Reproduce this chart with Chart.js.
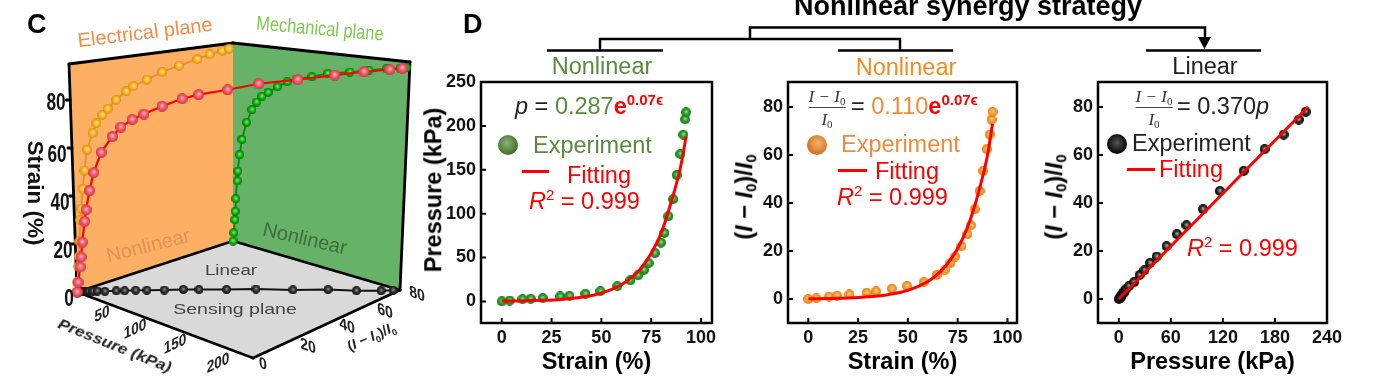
<!DOCTYPE html>
<html>
<head>
<meta charset="utf-8">
<title>Nonlinear synergy strategy</title>
<script src="https://cdn.jsdelivr.net/npm/chart.js@4/dist/chart.umd.min.js"></script>
<style>
  html, body { margin: 0; padding: 0; background: #fff; }
  #page { position: relative; width: 1393px; height: 382px; overflow: hidden; font-family: "Liberation Sans", Arial, sans-serif; filter: blur(.4px); }
  canvas { position: absolute; }
  svg { position: absolute; left: 0; top: 0; }
  .t { position: absolute; white-space: nowrap; line-height: 1; transform: translateY(-50%); }
  .c { transform: translate(-50%, -50%); }
  .leg { font-size: 23.5px; }
  .b { font-weight: bold; }
  .ytitle { font-weight: bold; font-size: 23.5px; transform: translate(-50%, -50%) rotate(-90deg); }
  .ytitle sub { font-size: 15px; vertical-align: -4px; line-height: 0; }
  .eq { font-size: 23.5px; }
  .eq sup { font-size: 15px; font-weight: bold; vertical-align: 9px; line-height: 0; }
  .r2 sup { font-size: 15px; vertical-align: 9px; line-height: 0; }
  .frac { position: absolute; transform: translate(-50%, 0); text-align: center; font-family: "Liberation Serif", serif; font-size: 17px; font-style: italic; color: #333; line-height: 1; white-space: nowrap; }
  .frac sub { font-size: 11px; font-style: normal; vertical-align: -3px; line-height: 0; }
  .frac .num { border-bottom: 1.5px solid #444; padding-bottom: 2px; margin-bottom: 3px; }
  .ball { position: absolute; width: 20px; height: 20px; border-radius: 50%; transform: translate(-50%, -50%); }
  .bar { position: absolute; height: 3px; background: #f00; }
  .tick3d { font-weight: bold; font-size: 15px; color: #222; }
  .strainTick { font-weight: bold; font-size: 23px; color: #111; }
</style>
</head>
<body>
<div id="page">
  <canvas id="cube" width="450" height="382" style="left:0;top:0"></canvas>
  <canvas id="chartA" width="316" height="322" style="left:420px;top:60px"></canvas>
  <canvas id="chartB" width="306" height="322" style="left:735px;top:60px"></canvas>
  <canvas id="chartC" width="323" height="322" style="left:1040px;top:60px"></canvas>

  <!-- strategy bracket -->
  <svg width="1393" height="60">
    <g fill="none" stroke="#000" stroke-width="2.5">
      <path d="M547 50.5H663M838 50.5H953M1146 50.5H1261"/>
      <path d="M600 50V39H900V50"/>
      <path d="M750 39V27.5H1205V40"/>
    </g>
    <path d="M1198 37H1211L1204.5 49Z" fill="#000"/>
  </svg>

  <div class="t b" style="left:794px;top:6px;font-size:27px;color:#000">Nonlinear synergy strategy</div>
  <div class="t b" style="left:27px;top:24px;font-size:27px;color:#000">C</div>
  <div class="t b" style="left:463px;top:24px;font-size:27px;color:#000">D</div>

  <div class="t c" style="left:602px;top:67px;font-size:23.5px;color:#5a8a3c">Nonlinear</div>
  <div class="t c" style="left:906px;top:68px;font-size:23.5px;color:#f58a1f">Nonlinear</div>
  <div class="t c" style="left:1205px;top:67px;font-size:23.5px;color:#222">Linear</div>

  <!-- panel C labels -->
  <div class="t c" style="left:145px;top:32px;font-size:20px;color:#f58b45;transform:translate(-50%,-50%) rotate(-7deg)">Electrical plane</div>
  <div class="t c" style="left:320px;top:28px;font-size:20px;color:#7ec850;transform:translate(-50%,-50%) rotate(5deg) scaleX(.82)">Mechanical plane</div>
  <div class="t c" style="left:148px;top:245px;font-size:20px;color:#d8945a;transform:translate(-50%,-50%) rotate(-14deg)">Nonlinear</div>
  <div class="t c" style="left:305px;top:238px;font-size:20px;color:#3e6e3e;transform:translate(-50%,-50%) rotate(13deg)">Nonlinear</div>
  <div class="t c" style="left:231px;top:269px;font-size:15px;color:#444;transform:translate(-50%,-50%) scaleX(1.25)">Linear</div>
  <div class="t c" style="left:235px;top:308px;font-size:15px;color:#444;transform:translate(-50%,-50%) scaleX(1.3)">Sensing plane</div>

  <div class="t c b" style="left:35px;top:193px;font-size:22.5px;color:#111;transform:translate(-50%,-50%) rotate(90deg)">Strain (%)</div>
  <div class="t c strainTick" style="left:56px;top:102px;transform:translate(-50%,-50%) scaleX(.75)">80</div>
  <div class="t c strainTick" style="left:57px;top:154px;transform:translate(-50%,-50%) scaleX(.75)">60</div>
  <div class="t c strainTick" style="left:60px;top:202px;transform:translate(-50%,-50%) scaleX(.75)">40</div>
  <div class="t c strainTick" style="left:63px;top:250px;transform:translate(-50%,-50%) scaleX(.75)">20</div>
  <div class="t c strainTick" style="left:69px;top:298px;transform:translate(-50%,-50%) scaleX(.75)">0</div>

  <div class="t c tick3d" style="left:102px;top:313px;transform:translate(-50%,-50%) rotate(-25deg) skewX(-25deg)">50</div>
  <div class="t c tick3d" style="left:135px;top:328px;transform:translate(-50%,-50%) rotate(-25deg) skewX(-25deg)">100</div>
  <div class="t c tick3d" style="left:175px;top:343px;transform:translate(-50%,-50%) rotate(-25deg) skewX(-25deg)">150</div>
  <div class="t c tick3d" style="left:218px;top:362px;transform:translate(-50%,-50%) rotate(-25deg) skewX(-25deg)">200</div>
  <div class="t c tick3d" style="left:263px;top:363px;transform:translate(-50%,-50%) rotate(20deg) skewX(25deg)">0</div>
  <div class="t c tick3d" style="left:308px;top:345px;transform:translate(-50%,-50%) rotate(20deg) skewX(25deg)">20</div>
  <div class="t c tick3d" style="left:347px;top:325px;transform:translate(-50%,-50%) rotate(20deg) skewX(25deg)">40</div>
  <div class="t c tick3d" style="left:385px;top:310px;transform:translate(-50%,-50%) rotate(20deg) skewX(25deg)">60</div>
  <div class="t c tick3d" style="left:417px;top:293px;transform:translate(-50%,-50%) rotate(20deg) skewX(25deg)">80</div>
  <div class="t c" style="left:115px;top:345px;font-size:15px;font-weight:bold;font-style:italic;color:#222;transform:translate(-50%,-50%) rotate(22deg) scaleX(1.15)">Pressure (kPa)</div>
  <div class="t c" style="left:372px;top:338px;font-size:14px;font-weight:bold;color:#222;transform:translate(-50%,-50%) rotate(-24deg)">(<i>I</i> − <i>I</i><sub style="font-size:9px">0</sub>)/<i>I</i><sub style="font-size:9px">0</sub></div>

  <!-- panel D, left -->
  <div class="t c ytitle" style="left:434px;top:190px">Pressure (kPa)</div>
  <div class="t eq" style="left:515px;top:107px;color:#222"><i>p</i> = <span style="color:#5a8a3c">0.287</span><span style="color:#f00"><b>e</b><sup>0.07ϵ</sup></span></div>
  <div class="ball" style="left:508px;top:145px;background:radial-gradient(circle at 45% 40%,#8fb07c,#4c7a34 60%,#2f5a1e)"></div>
  <div class="t leg" style="left:533px;top:146px;color:#5a8a3c">Experiment</div>
  <div class="bar" style="left:522px;top:170px;width:27px"></div>
  <div class="t leg" style="left:567px;top:176px;color:#f00">Fitting</div>
  <div class="t leg r2" style="left:529px;top:202px;color:#f00"><i>R</i><sup>2</sup> = 0.999</div>

  <!-- panel D, middle -->
  <div class="t c ytitle" style="left:745px;top:197px">(<i>I</i> − <i>I</i><sub>0</sub>)/<i>I</i><sub>0</sub></div>
  <div class="frac" style="left:827px;top:88px"><div class="num"><i>I − I</i><sub>0</sub></div><div><i>I</i><sub>0</sub></div></div>
  <div class="t eq" style="left:851px;top:107px;color:#222">= <span style="color:#f08a3c">0.110</span><span style="color:#f00"><b>e</b><sup>0.07ϵ</sup></span></div>
  <div class="ball" style="left:817px;top:145px;background:radial-gradient(circle at 55% 40%,#f5b070,#d87a28 60%,#a8581a)"></div>
  <div class="t leg" style="left:841px;top:145px;color:#f08a3c">Experiment</div>
  <div class="bar" style="left:838px;top:169px;width:29px"></div>
  <div class="t leg" style="left:875px;top:172px;color:#f00">Fitting</div>
  <div class="t leg r2" style="left:837px;top:198px;color:#f00"><i>R</i><sup>2</sup> = 0.999</div>

  <!-- panel D, right -->
  <div class="t c ytitle" style="left:1055px;top:197px">(<i>I</i> − <i>I</i><sub>0</sub>)/<i>I</i><sub>0</sub></div>
  <div class="frac" style="left:1154px;top:88px"><div class="num"><i>I − I</i><sub>0</sub></div><div><i>I</i><sub>0</sub></div></div>
  <div class="t eq" style="left:1177px;top:107px;color:#222">= 0.370<i>p</i></div>
  <div class="ball" style="left:1117px;top:144px;background:radial-gradient(circle at 50% 45%,#555,#111 60%,#000)"></div>
  <div class="t leg" style="left:1132px;top:144px;color:#222">Experiment</div>
  <div class="bar" style="left:1127px;top:168px;width:28px"></div>
  <div class="t leg" style="left:1159px;top:170px;color:#f00">Fitting</div>
  <div class="t leg r2" style="left:1187px;top:249px;color:#f00"><i>R</i><sup>2</sup> = 0.999</div>
</div>

<script>
// --------------- Data --------------------------------------
const strain = [0, 4, 10.4, 14.5, 20.6, 29.3, 34, 42, 49.5, 58, 64.5, 68.4, 71.4, 73.7, 76.9, 79.9, 81.6, 83.6, 86, 87.8, 89.6, 91.1, 92, 92.5];
const pressure = [0, 1, 2.6, 3, 3.8, 5.7, 6.4, 8.7, 11.7, 17.4, 24, 29.6, 36, 43.6, 55, 67, 78, 97, 116.5, 144, 168, 190, 207.5, 215.5];
const current = [0, 0.3, 1, 1.4, 1.9, 2.6, 3.2, 4.3, 5.4, 7, 10, 12, 15, 17.7, 22, 27, 30.7, 37.4, 45, 53.4, 62.4, 68.5, 74.7, 78];

const fitStrain = [0, 10, 20, 30, 40, 50, 60, 65, 70, 75, 80, 85, 90, 92.5];
const fitPressure = [0.5, 0.6, 1.2, 2.3, 4.7, 9.5, 19, 27, 38, 55, 78, 113, 156, 188];
const fitCurrent = [0.1, 0.2, 0.4, 0.9, 1.8, 3.6, 7.3, 10.4, 14.8, 21, 30, 43, 60, 73];
const linePressure = [0, 218];
const lineCurrent = [0, 80];

const strainTicks = [0, 25, 50, 75, 100];
const pressureTicksA = [0, 50, 100, 150, 200, 250];
const currentTicks = [0, 20, 40, 60, 80];
const pressureTicksC = [0, 60, 120, 180, 240];
const cubeStrainTicks = [0, 20, 40, 60, 80];

// --------------- Cube projection (axis maxima and corner pixels) -----------------
const pressureMax = 220, currentMax = 80, strainMax = 95;
const floorQuad = [[77, 292], [253, 358], [400, 290], [233, 241]];
const roofQuad = [[69, 64], [254, 82], [410, 62], [233, 43]];

const squareToQuad = (q) => {
  const [[x0, y0], [x1, y1], [x2, y2], [x3, y3]] = q;
  const dx1 = x1 - x2, dx2 = x3 - x2, sx = x0 - x1 + x2 - x3;
  const dy1 = y1 - y2, dy2 = y3 - y2, sy = y0 - y1 + y2 - y3;
  const den = dx1 * dy2 - dx2 * dy1;
  const g = (sx * dy2 - dx2 * sy) / den;
  const h = (dx1 * sy - sx * dy1) / den;
  return (u, v) => {
    const w = g * u + h * v + 1;
    return [
      ((x1 - x0 + g * x1) * u + (x3 - x0 + h * x3) * v + x0) / w,
      ((y1 - y0 + g * y1) * u + (y3 - y0 + h * y3) * v + y0) / w
    ];
  };
};
const floorMap = squareToQuad(floorQuad);
const roofMap = squareToQuad(roofQuad);

const project = (p, i, s) => {
  const a = floorMap(p / pressureMax, i / currentMax);
  const b = roofMap(p / pressureMax, i / currentMax);
  const t = s / strainMax;
  return { x: a[0] + (b[0] - a[0]) * t, y: a[1] + (b[1] - a[1]) * t };
};

// --------------- Shaded balls used as point styles -----------------
const makeBall = (r, hi, mid, edge) => {
  const c = document.createElement("canvas");
  c.width = c.height = Math.ceil(r * 2);
  const g = c.getContext("2d");
  const grad = g.createRadialGradient(r * 1.05, r * 0.85, 0, r, r, r);
  grad.addColorStop(0, hi);
  grad.addColorStop(0.5, mid);
  grad.addColorStop(1, edge);
  g.fillStyle = grad;
  g.beginPath();
  g.arc(r, r, r, 0, Math.PI * 2);
  g.fill();
  return c;
};

// --------------- Panel C -----------------
const planesPlugin = {
  id: "planes",
  beforeDatasetsDraw(chart) {
    const { ctx, scales } = chart;
    const toPx = (pt) => [scales.x.getPixelForValue(pt.x), scales.y.getPixelForValue(pt.y)];
    const poly = (pts, fill) => {
      ctx.beginPath();
      pts.forEach((pt, k) => {
        const [x, y] = toPx(pt);
        k ? ctx.lineTo(x, y) : ctx.moveTo(x, y);
      });
      ctx.closePath();
      ctx.fillStyle = fill;
      ctx.fill();
    };
    const P = pressureMax, I = currentMax, S = strainMax;
    poly([project(0, 0, 0), project(P, 0, 0), project(P, I, 0), project(0, I, 0)], "#d9d9d9");
    poly([project(0, 0, 0), project(0, I, 0), project(0, I, S), project(0, 0, S)], "#fdb064");
    poly([project(0, I, 0), project(P, I, 0), project(P, I, S), project(0, I, S)], "#66b266");

    ctx.strokeStyle = "#000";
    ctx.lineWidth = 2.8;
    ctx.lineCap = "round";
    const seg = (a, b) => {
      ctx.beginPath();
      ctx.moveTo(...toPx(a));
      ctx.lineTo(...toPx(b));
      ctx.stroke();
    };
    seg(project(0, 0, 0), project(0, 0, S));
    seg(project(0, 0, S), project(0, I, S));
    seg(project(0, I, S), project(P, I, S));
    seg(project(P, I, S), project(P, I, 0));
    seg(project(0, 0, 0), project(P, 0, 0));
    seg(project(P, 0, 0), project(P, I, 0));
    seg(project(0, 0, 0), project(0, I, 0));
    seg(project(0, I, 0), project(P, I, 0));
    cubeStrainTicks.forEach((s) => {
      const a = project(0, 0, s);
      seg(a, { x: a.x - 4, y: a.y });
    });
  }
};

const blackPts = strain.map((s, k) => project(pressure[k], current[k], 0));
const orangePts = strain.map((s, k) => project(0, current[k], s));
const greenPts = strain.map((s, k) => project(pressure[k], currentMax, s));
const redPts = strain.map((s, k) => project(pressure[k], current[k], s));

const cubeSet = (data, color, width, ball, order) => ({
  data, order,
  showLine: true,
  borderColor: color,
  borderWidth: width,
  pointStyle: ball,
  pointRadius: 4,
  tension: 0,
  clip: false
});

new Chart(document.getElementById("cube"), {
  type: "scatter",
  data: {
    datasets: [
      cubeSet(redPts, "#f00", 2.2, makeBall(5.5, "#ffc0c8", "#f0606e", "#d83048"), 1),
      cubeSet(greenPts, "#0a8a0a", 1.8, makeBall(4.5, "#8df08d", "#10c010", "#067006"), 2),
      cubeSet(orangePts, "#f08a30", 1.8, makeBall(5, "#ffe8a0", "#fbb92c", "#d88a10"), 3),
      cubeSet(blackPts, "#111", 2, makeBall(4.5, "#999", "#333", "#111"), 4)
    ]
  },
  options: {
    responsive: false,
    animation: false,
    layout: { padding: 0, autoPadding: false },
    plugins: { legend: { display: false }, tooltip: { enabled: false } },
    scales: {
      x: { type: "linear", display: false, min: 0, max: 450 },
      y: { type: "linear", display: false, min: 0, max: 382, reverse: true }
    }
  },
  plugins: [planesPlugin]
});

// --------------- Panel D charts -----------------
const framePlugin = {
  id: "frame",
  beforeDatasetsDraw(chart) {
    const { ctx, chartArea: a, scales } = chart;
    ctx.save();
    ctx.strokeStyle = "#000";
    ctx.lineWidth = 2.5;
    ctx.strokeRect(a.left, a.top, a.width, a.height);
    ctx.lineWidth = 2;
    ctx.beginPath();
    scales.x.ticks.forEach((t) => {
      const x = scales.x.getPixelForValue(t.value);
      ctx.moveTo(x, a.bottom);
      ctx.lineTo(x, a.bottom - 5);
    });
    scales.y.ticks.forEach((t) => {
      const y = scales.y.getPixelForValue(t.value);
      ctx.moveTo(a.left, y);
      ctx.lineTo(a.left + 5, y);
    });
    ctx.stroke();
    ctx.restore();
  }
};

const tickFont = { family: "'Liberation Sans', Arial, sans-serif", size: 18, weight: "bold" };

const drawPanel = (id, cfg) => {
  const toPts = (xs, ys) => xs.map((x, k) => ({ x, y: ys[k] }));
  return new Chart(document.getElementById(id), {
    type: "scatter",
    data: {
      datasets: [
        {
          data: toPts(cfg.fitX, cfg.fitY),
          showLine: true,
          borderColor: "#f00",
          borderWidth: 3,
          pointRadius: 0,
          tension: 0.4,
          cubicInterpolationMode: "monotone"
        },
        {
          data: toPts(cfg.x, cfg.y),
          pointStyle: cfg.ball,
          pointRadius: 4
        }
      ]
    },
    options: {
      responsive: false,
      animation: false,
      layout: { padding: { top: 22, right: cfg.right, left: 0, bottom: 0 }, autoPadding: false },
      plugins: { legend: { display: false }, tooltip: { enabled: false } },
      scales: {
        x: {
          type: "linear",
          min: cfg.xMin,
          max: cfg.xMax,
          afterBuildTicks: (s) => { s.ticks = cfg.xTicks.map((value) => ({ value })); },
          afterFit: (s) => { s.height = 59; },
          grid: { display: false, drawTicks: false },
          border: { display: false },
          ticks: { color: "#111", font: tickFont, padding: 4, maxRotation: 0, autoSkip: false },
          title: {
            display: true,
            text: cfg.xTitle,
            color: "#000",
            font: { family: tickFont.family, size: 23.5, weight: "bold" },
            padding: { top: 0, bottom: 5 }
          }
        },
        y: {
          type: "linear",
          min: cfg.yMin,
          max: cfg.yMax,
          afterBuildTicks: (s) => { s.ticks = cfg.yTicks.map((value) => ({ value })); },
          afterFit: (s) => { s.width = cfg.yWidth; },
          grid: { display: false, drawTicks: false },
          border: { display: false },
          ticks: { color: "#111", font: tickFont, padding: 5, autoSkip: false }
        }
      }
    },
    plugins: [framePlugin]
  });
};

drawPanel("chartA", {
  x: strain, y: pressure, fitX: fitStrain, fitY: fitPressure,
  ball: makeBall(5, "#9fe09f", "#2ea02e", "#107a10"),
  xMin: -10.4, xMax: 105.5, yMin: -24.6, yMax: 250,
  xTicks: strainTicks, yTicks: pressureTicksA,
  xTitle: "Strain (%)", yWidth: 61, right: 24
});

drawPanel("chartB", {
  x: strain, y: current, fitX: fitStrain, fitY: fitCurrent,
  ball: makeBall(5, "#ffd9a8", "#ff9c30", "#e87c10"),
  xMin: -10.2, xMax: 104.8, yMin: -10, yMax: 90.4,
  xTicks: strainTicks, yTicks: currentTicks,
  xTitle: "Strain (%)", yWidth: 53, right: 24
});

drawPanel("chartC", {
  x: pressure, y: current, fitX: linePressure, fitY: lineCurrent,
  ball: makeBall(5, "#bbb", "#333", "#000"),
  xMin: -24, xMax: 240, yMin: -10, yMax: 90.4,
  xTicks: pressureTicksC, yTicks: currentTicks,
  xTitle: "Pressure (kPa)", yWidth: 58, right: 36
});
</script>
</body>
</html>
